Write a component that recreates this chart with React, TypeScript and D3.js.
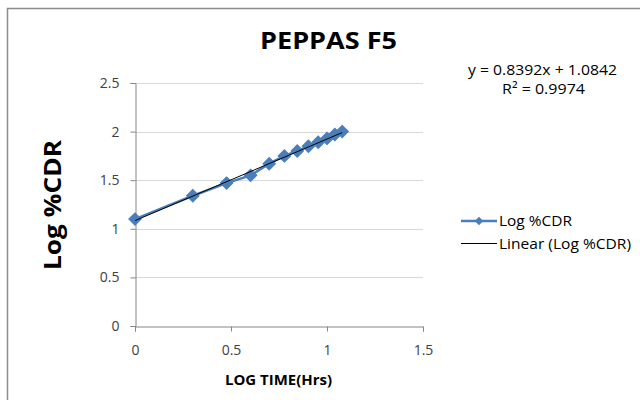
import React, { useEffect, useRef } from 'react';
import * as d3 from 'd3';

// log time (hrs) and log %CDR
const logTime = [0, 0.301, 0.477, 0.602, 0.699, 0.778, 0.845, 0.903, 0.954, 1.0, 1.041, 1.079];
const logCdr = [1.1, 1.34, 1.47, 1.55, 1.67, 1.75, 1.8, 1.85, 1.89, 1.93, 1.97, 2.0];
const xTicks = [0, 0.5, 1, 1.5];
const yTicks = [0, 0.5, 1, 1.5, 2, 2.5];
const slope = 0.8392;
const intercept = 1.0842;
const legendLabels = ['Log %CDR', 'Linear (Log %CDR)'];

const FONT = '"Open Sans", Lato, sans-serif';

const App = () => {
  const svgRef = useRef<SVGSVGElement>(null);

  useEffect(() => {
    const svg = d3.select(svgRef.current);
    svg.selectAll('*').remove();

    const width = 640;
    const height = 400;

    // 外枠
    svg.append('rect')
      .attr('x', 7.5).attr('y', 8.5)
      .attr('width', 700).attr('height', 500)
      .attr('fill', 'white')
      .attr('stroke', '#8c8c8c')
      .attr('stroke-width', 1.5);

    const x = d3.scaleLinear().domain([0, 1.5]).range([135, 423]);
    const y = d3.scaleLinear().domain([0, 2.5]).range([326, 83]);

    // グリッド
    svg.append('g')
      .selectAll('line')
      .data(yTicks.filter(d => d > 0))
      .enter()
      .append('line')
      .attr('x1', x(0)).attr('x2', x(1.5))
      .attr('y1', d => Math.round(y(d)) + 0.5)
      .attr('y2', d => Math.round(y(d)) + 0.5)
      .attr('stroke', '#d9d9d9')
      .attr('stroke-width', 1);

    // 軸
    const yAxis = d3.axisLeft(y).tickValues(yTicks).tickSize(5).tickPadding(11).tickFormat(d => String(d));
    const gy = svg.append('g').attr('transform', `translate(${Math.round(x(0)) + 0.5},0)`).call(yAxis);
    gy.select('.domain').attr('stroke', '#868686');
    gy.selectAll('.tick line').attr('stroke', '#868686');
    gy.selectAll('text').attr('fill', '#404040').style('font-size', '14px').style('font-family', FONT);

    const xAxis = d3.axisBottom(x).tickValues(xTicks).tickSize(5).tickPadding(14).tickFormat(d => String(d));
    const gx = svg.append('g').attr('transform', `translate(0,${Math.round(y(0)) + 0.5})`).call(xAxis);
    gx.select('.domain').attr('stroke', '#868686');
    gx.selectAll('.tick line').attr('stroke', '#868686');
    gx.selectAll('text').attr('fill', '#404040').style('font-size', '14px').style('font-family', FONT);

    // データ系列
    const pts = logTime.map((t, i) => [t, logCdr[i]] as [number, number]);
    const line = d3.line<[number, number]>().x(d => x(d[0])).y(d => y(d[1]));
    svg.append('path')
      .datum(pts)
      .attr('d', line)
      .attr('fill', 'none')
      .attr('stroke', '#4a7ebb')
      .attr('stroke-width', 2.5);

    // 正方形を45度回転させてひし形マーカーにする
    const diamond = d3.symbol().type(d3.symbolSquare).size(78);
    svg.selectAll('.pt')
      .data(pts)
      .enter()
      .append('path')
      .attr('class', 'pt')
      .attr('d', diamond)
      .attr('transform', d => `translate(${x(d[0])},${y(d[1])}) rotate(45)`)
      .attr('fill', '#4a7ebb')
      .attr('stroke', '#4a7ebb')
      .attr('stroke-width', 1);

    // 近似直線
    const xMin = d3.min(logTime) as number;
    const xMax = d3.max(logTime) as number;
    svg.append('line')
      .attr('x1', x(xMin)).attr('y1', y(slope * xMin + intercept))
      .attr('x2', x(xMax)).attr('y2', y(slope * xMax + intercept))
      .attr('stroke', '#000')
      .attr('stroke-width', 1);

    // テキスト（幅を参照に合わせる）
    const addText = (tx: number, ty: number, str: string, size: number, len: number, bold = false, anchor = 'middle') =>
      svg.append('text')
        .attr('x', tx).attr('y', ty)
        .attr('text-anchor', anchor)
        .attr('textLength', len)
        .attr('lengthAdjust', 'spacingAndGlyphs')
        .style('font-family', FONT)
        .style('font-weight', bold ? 'bold' : 'normal')
        .style('font-size', `${size}px`)
        .text(str);

    addText(328.5, 49, 'PEPPAS F5', 23, 137, true);
    addText(0, 0, 'Log %CDR', 23, 130, true)
      .attr('transform', 'translate(61,205) rotate(-90)');
    addText(278.5, 385, 'LOG TIME(Hrs)', 13.5, 107, true);

    // 数式
    addText(542.5, 75, `y = ${slope}x + ${intercept}`, 15, 149);
    addText(543.5, 94, 'R² = 0.9974', 15, 83);

    // 凡例
    const lg = svg.append('g');
    lg.append('line')
      .attr('x1', 461).attr('x2', 497).attr('y1', 221).attr('y2', 221)
      .attr('stroke', '#4a7ebb').attr('stroke-width', 2.5);
    lg.append('path')
      .attr('d', d3.symbol().type(d3.symbolSquare).size(36))
      .attr('transform', 'translate(479,221) rotate(45)')
      .attr('fill', '#4a7ebb');
    lg.append('line')
      .attr('x1', 461).attr('x2', 497).attr('y1', 243.5).attr('y2', 243.5)
      .attr('stroke', '#000').attr('stroke-width', 1);
    const legendLens = [73, 132];
    legendLabels.forEach((lbl, i) => {
      addText(499, 226 + i * 22.5, lbl, 15, legendLens[i], false, 'start');
    });

    svg.attr('width', width).attr('height', height);
  }, []);

  return (
    <div style={{ position: 'absolute', left: 0, top: 0 }}>
      <svg ref={svgRef} width={640} height={400} style={{ display: 'block' }} />
    </div>
  );
};

export default App;
